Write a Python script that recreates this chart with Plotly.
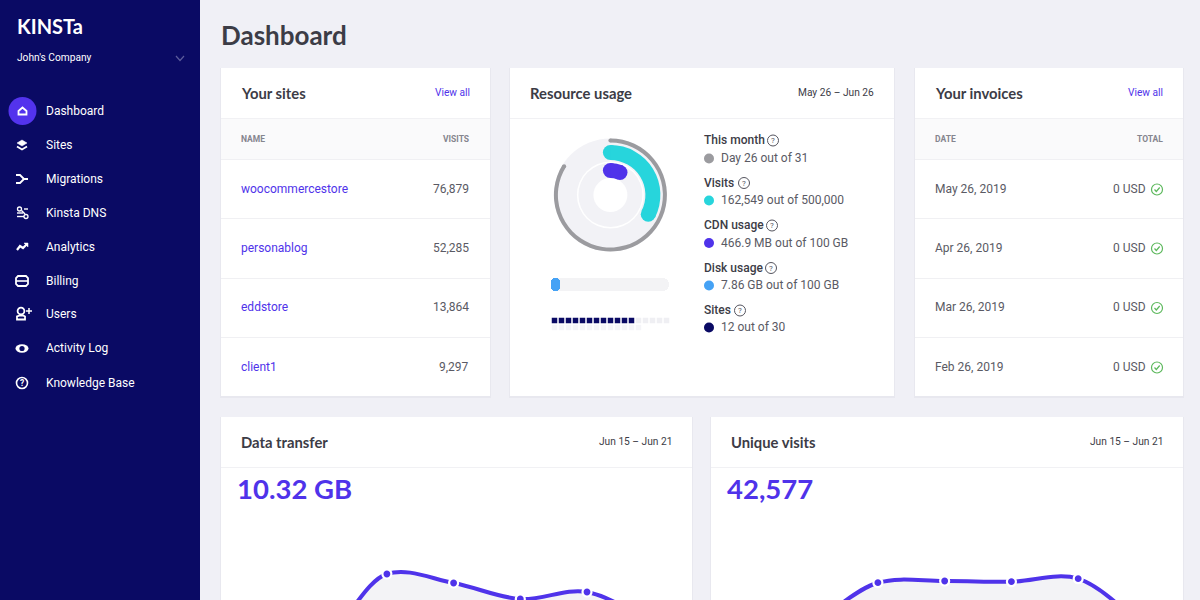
import numpy as np
import plotly.graph_objects as go

# data
nav_items = ["Dashboard", "Sites", "Migrations", "Kinsta DNS", "Analytics", "Billing", "Users", "Activity Log", "Knowledge Base"]
site_names = ["woocommercestore", "personablog", "eddstore", "client1"]
site_visits = ["76,879", "52,285", "13,864", "9,297"]
invoice_dates = ["May 26, 2019", "Apr 26, 2019", "Mar 26, 2019", "Feb 26, 2019"]
invoice_totals = ["0 USD", "0 USD", "0 USD", "0 USD"]
usage_titles = ["This month", "Visits", "CDN usage", "Disk usage", "Sites"]
usage_texts = ["Day 26 out of 31", "162,549 out of 500,000", "466.9 MB out of 100 GB", "7.86 GB out of 100 GB", "12 out of 30"]
days = ["Jun 15", "Jun 16", "Jun 17", "Jun 18", "Jun 19", "Jun 20", "Jun 21"]
transfer_gb = [1.14, 0.10, 2.64, 2.28, 1.64, 1.92, 0.60]
unique_visits = [2692, 3000, 8595, 8850, 8745, 9195, 1500]
month_share = [26, 5]
visits_share = [162549, 337451]
cdn_share = [0.064, 0.936]  # drawn wider than the real value in the picture
disk_share = 7.86
disk_total = 100
sites_used = 12
sites_total = 30
sites_per_row = 17

PURPLE = "#4f33ea"
NAVY = "#0a0a64"
TEAL = "#27d5dc"
GRAY = "#9b9b9f"
BLUE = "#45a2f5"
TRACK = "#f2f2f6"
INK = "#3c3c46"
BODY = "#5a5a64"
W, H = 1200, 600

shapes = []
notes = []


def label(x, y, text, size=12, color=BODY, weight=400, anchor="left", family="Roboto"):
    notes.append(dict(x=x, y=y - 0.2, text=text, xref="x", yref="y", showarrow=False, xanchor=anchor, yanchor="middle",
                      borderpad=0, borderwidth=0, font=dict(size=size, color=color, family=family, weight=weight)))


def rect(x0, y0, x1, y1, fill):
    shapes.append(dict(type="rect", x0=x0, y0=y0, x1=x1, y1=y1, xref="x", yref="y", layer="below",
                       fillcolor=fill, line_width=0))


def circle(cx, cy, rx, fill=None, line=None, lw=1.5, ry=None):
    ry = rx if ry is None else ry
    shapes.append(dict(type="circle", x0=cx - rx, y0=cy - ry, x1=cx + rx, y1=cy + ry, xref="x", yref="y", layer="below",
                       fillcolor=fill or "rgba(0,0,0,0)", line=dict(color=line or "rgba(0,0,0,0)", width=lw if line else 0)))


def stroke(cx, cy, points, color="white", lw=2, close=False, fill=None):
    d = "M" + " L".join(f"{cx + a} {cy + b}" for a, b in points) + (" Z" if close else "")
    shapes.append(dict(type="path", path=d, xref="x", yref="y", layer="below", fillcolor=fill or "rgba(0,0,0,0)",
                       line=dict(color=color, width=lw)))


def card(x0, y0, x1, y1, title, head_line, right, right_color):
    rect(x0 - 1, y0, x1 + 1, min(y1 + 2, H), "#e8e8ef")
    rect(x0, y0, x1, y1, "white")
    rect(x0, head_line, x1, head_line + 1, "#f1f1f4")
    label(x0 + 20, y0 + 25, title, size=14.8, color=INK, weight=700, family="Lato")
    label(x1 - 20, y0 + 25, right, size=10.2, color=right_color, anchor="right")


def help_icon(cx, cy):
    circle(cx, cy, 5.5, line="#55555f", lw=1)
    label(cx, cy + 0.5, "?", size=8, color="#55555f", anchor="center")


def domain_x(a, b):
    return [a / W, b / W]


def domain_y(top, bottom):
    return [1 - bottom / H, 1 - top / H]


# page background and sidebar
rect(0, 0, 200, 600, NAVY)
label(17, 26.5, "KINSTa", size=20, color="white", weight=700, family="Lato")
label(17, 57.5, "John's Company", size=10.2, color="white")
stroke(180, 58, [(-4, -2), (0, 2.5), (4, -2)], color="#5c5c9c", lw=1.2)
nav_y = [111, 145, 179, 213, 247, 281, 314.5, 348.5, 383]
for name, ny in zip(nav_items, nav_y):
    label(46, ny, name, size=12, color="white")
circle(22.5, 111, 14, fill="#5333ed")
stroke(22.5, 111, [(-4, 0), (0, -3.5), (4, 0), (4, 3.5), (-4, 3.5)], close=True, lw=1.8)
stroke(22, 145, [(-5, -2), (0, -5), (5, -2), (0, 1)], close=True, fill="white", lw=0.5)
stroke(22, 145, [(-5, 1.5), (0, 4.5), (5, 1.5)], lw=1.8)
stroke(22, 179, [(-6, -4), (-2, -4), (2, 0), (6, 0)], lw=1.8)
stroke(22, 179, [(-6, 4), (-2, 4), (2, 0)], lw=1.8)
circle(19.5, 209, 2, line="white", lw=1.3)
stroke(22, 213, [(-0.5, -2.5), (3, 1)], lw=1.4)
circle(26, 216.5, 2, line="white", lw=1.3)
stroke(22, 213, [(-5, 0), (1, 0)], lw=1.4)
stroke(22, 213, [(2, -4), (6, -4)], lw=1.4)
stroke(22, 213, [(-5, 3.5), (2, 3.5)], lw=1.4)
stroke(22, 247, [(-5, 3), (-2, -1), (1, 1), (5, -3)], lw=2.2)
stroke(22, 247, [(2, -4), (6, -4), (6, 0)], close=True, fill="white", lw=0.5)
stroke(22, 281, [(-4, -5), (4, -5), (6, -3), (6, 3), (4, 5), (-4, 5), (-6, 3), (-6, -3)], close=True, lw=1.8)
stroke(22, 281, [(-6, 0), (6, 0)], lw=1.6)
circle(21, 311, 3.4, line="white", lw=1.8)
stroke(21, 314.5, [(-4, 5), (-4, 2), (-1, 1), (2, 1), (4, 2), (4, 5)], close=True, lw=1.8)
stroke(29, 311, [(-3, 0), (3, 0)], lw=1.5)
stroke(29, 311, [(0, -3), (0, 3)], lw=1.5)
circle(22, 348.5, 6.5, ry=4.2, fill="white")
circle(22, 348.5, 2.6, fill=NAVY)
circle(22, 383, 5.5, line="white", lw=1.6)
label(22, 383.5, "?", size=8.5, color="white", weight=700, anchor="center")

# title and cards
label(221, 35, "Dashboard", size=26, color=INK, weight=700, family="Lato")
card(221, 68, 490, 396, "Your sites", 118, "View all", PURPLE)
card(510, 68, 894, 396, "Resource usage", 118, "May 26 – Jun 26", INK)
card(915, 68, 1183, 396, "Your invoices", 118, "View all", PURPLE)
card(221, 417, 692, 620, "Data transfer", 467, "Jun 15 – Jun 21", INK)
card(711, 417, 1183, 620, "Unique visits", 467, "Jun 15 – Jun 21", INK)

# tables
row_y = [189, 248, 307.5, 367]
for x0, x1 in [(221, 490), (915, 1183)]:
    rect(x0, 119, x1, 159, "#fafafb")
    for line_y in [159, 218, 278, 337]:
        rect(x0, line_y, x1, line_y + 1, "#f0f0f3")
label(241, 139.5, "NAME", size=8.5, color="#85858e", weight=700)
label(469, 139.5, "VISITS", size=8.5, color="#85858e", weight=700, anchor="right")
label(935, 139.5, "DATE", size=8.5, color="#85858e", weight=700)
label(1163, 139.5, "TOTAL", size=8.5, color="#85858e", weight=700, anchor="right")
for ry, name, hits, date, total in zip(row_y, site_names, site_visits, invoice_dates, invoice_totals):
    label(241, ry, name, color=PURPLE)
    label(469, ry, hits, anchor="right")
    label(935, ry, date)
    label(1146, ry, total, anchor="right")
    circle(1157, ry + 0.5, 5.5, line="#5cb85c", lw=1.2)
    stroke(1157, ry + 0.5, [(-2.5, 0), (-0.7, 2), (2.7, -2)], color="#5cb85c", lw=1.2)

# usage legend
title_y = [140.5, 183, 225.5, 268, 310.5]
text_y = [158.5, 200.5, 243, 285.5, 327.5]
help_x = [773, 744, 772, 771, 740]
dot_colors = [GRAY, TEAL, PURPLE, BLUE, NAVY]
for t, s, ty, sy, hx, c in zip(usage_titles, usage_texts, title_y, text_y, help_x, dot_colors):
    label(704, ty, t, color=INK, weight=500)
    label(721, sy, s)
    help_icon(hx, ty)
    circle(709, sy, 5, fill=c)

# gauge tracks
gx, gy = 610.4, 195
for r, c in [(56.5, TRACK), (33.5, "white"), (32, TRACK), (17, "white")]:
    circle(gx, gy, r, fill=c)

fig = go.Figure()

# gauge arcs are pies, the round ends are markers on the pixel axes
rings = [(month_share, GRAY, 56.5, 52.5), (visits_share, TEAL, 50, 35), (cdn_share, PURPLE, 32, 17)]
for vals, color, r_out, r_in in rings:
    fig.add_trace(go.Pie(values=vals, sort=False, direction="clockwise", rotation=0, hole=r_in / r_out,
                         textinfo="none", hoverinfo="skip", showlegend=False,
                         marker=dict(colors=[color, "rgba(0,0,0,0)"], line=dict(width=0)),
                         domain=dict(x=domain_x(gx - r_out, gx + r_out), y=domain_y(gy - r_out, gy + r_out))))
    ang = 2 * np.pi * vals[0] / sum(vals)
    mid = (r_out + r_in) / 2
    fig.add_trace(go.Scatter(x=[gx, gx + mid * np.sin(ang)], y=[gy - mid, gy - mid * np.cos(ang)], mode="markers",
                             marker=dict(size=r_out - r_in, color=color, line_width=0), hoverinfo="skip", showlegend=False))

# weekly charts
for vals, i, color in [(transfer_gb, 2, PURPLE), (unique_visits, 3, PURPLE)]:
    fig.add_trace(go.Scatter(x=days, y=vals, mode="lines+markers", xaxis=f"x{i}", yaxis=f"y{i}", fill="tozeroy",
                             fillcolor="#f3f3f6", line=dict(color=color, width=4, shape="spline", smoothing=1),
                             marker=dict(size=9, color=color, line=dict(color="white", width=2.2)),
                             hoverinfo="skip", showlegend=False))
label(237, 489, "10.32 GB", size=27.5, color=PURPLE, weight=700, family="Lato")
label(727, 489, "42,577", size=27.5, color=PURPLE, weight=700, family="Lato")

# disk bar, an explicit base makes plotly round both ends
for val, c, corner in [(disk_total, "#f3f3f5", 6), (disk_share, BLUE, 4.5)]:
    fig.add_trace(go.Bar(x=[val], y=["disk"], base=0, orientation="h", xaxis="x4", yaxis="y4",
                         marker=dict(color=c, line_width=0, cornerradius=corner), hoverinfo="skip", showlegend=False))

# sites squares
slots = np.arange(sites_total)
slot_x = slots % sites_per_row + 0.5
slot_y = slots // sites_per_row + 0.5
slot_c = ["#0a0a64" if s < sites_used else ("#efeff3" if s < sites_per_row else "#f5f5f8") for s in slots]
fig.add_trace(go.Scatter(x=slot_x, y=slot_y, mode="markers", xaxis="x5", yaxis="y5", hoverinfo="skip", showlegend=False,
                         marker=dict(symbol="square", size=5.5, color=slot_c, line_width=0)))

hidden = dict(visible=False, fixedrange=True)
fig.update_layout(
    width=W, height=H, margin=dict(l=0, r=0, t=0, b=0), autosize=False,
    paper_bgcolor="#f0f0f6", plot_bgcolor="rgba(0,0,0,0)",
    barmode="overlay", bargap=0,
    shapes=shapes, annotations=notes,
    xaxis=dict(range=[0, W], domain=[0, 1], **hidden),
    yaxis=dict(range=[H, 0], domain=[0, 1], **hidden),
    xaxis2=dict(range=[-0.487, 6.574], domain=domain_x(221, 692), type="category", anchor="y2", **hidden),
    yaxis2=dict(range=[1.6, 6.8], domain=domain_y(470, 600), anchor="x2", **hidden),
    xaxis3=dict(range=[-0.5, 6.57], domain=domain_x(711, 1183), type="category", anchor="y3", **hidden),
    yaxis3=dict(range=[6000, 25500], domain=domain_y(470, 600), anchor="x3", **hidden),
    xaxis4=dict(range=[0, disk_total], domain=domain_x(551, 669), anchor="y4", **hidden),
    yaxis4=dict(domain=domain_y(278, 291), anchor="x4", **hidden),
    xaxis5=dict(range=[0, sites_per_row], domain=domain_x(551, 670), anchor="y5", **hidden),
    yaxis5=dict(range=[2, 0], domain=domain_y(317, 331), anchor="x5", **hidden),
)

# the page has a default body margin that would push the figure off by 8px
fig.write_html("out.html", config=dict(displayModeBar=False), post_script="document.body.style.margin='0';")
